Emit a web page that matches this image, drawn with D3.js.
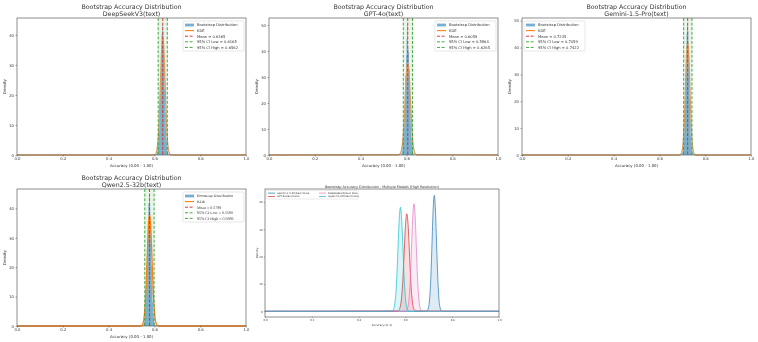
<!DOCTYPE html>
<html lang="en">
<head>
    <meta charset="UTF-8">
    <title>Bootstrap Accuracy Distribution</title>
    <script src="https://d3js.org/d3.v7.min.js"></script>
    <style>
        body { margin: 0; background: white; }
        svg { display: block; font-family: "DejaVu Sans", sans-serif; will-change: transform; }
        svg text { -webkit-font-smoothing: antialiased; text-rendering: geometricPrecision; }
    </style>
</head>
<body>
<script>
    // models, stats
    const models = ["DeepSeekV3(text)", "GPT-4o(text)", "Gemini-1.5-Pro(text)", "Qwen2.5-32b(text)"];
    const means = [0.6365, 0.6059, 0.7235, 0.5789];
    const ciLow = [0.6165, 0.5864, 0.7059, 0.5580];
    const ciHigh = [0.6562, 0.6265, 0.7422, 0.5986];

    // KDE densities sampled at mean + offset
    const kdeOffsets = [-0.04, -0.035, -0.03, -0.025, -0.02, -0.015, -0.01, -0.005, 0,
                        0.005, 0.01, 0.015, 0.02, 0.025, 0.03, 0.035, 0.04];
    const kdeDeepSeek = [0.0, 0.1, 0.5, 1.9, 5.5, 13.0, 24.0, 34.6, 39.4, 34.9, 24.2, 12.8, 5.3, 1.7, 0.4, 0.1, 0.0];
    const kdeGPT      = [0.1, 0.3, 1.0, 3.0, 7.3, 14.5, 23.8, 32.2, 35.7, 32.5, 24.1, 14.7, 7.1, 2.9, 0.9, 0.3, 0.1];
    const kdeGemini   = [0.0, 0.0, 0.3, 1.2, 4.5, 11.8, 24.3, 37.0, 42.5, 36.7, 23.9, 12.0, 4.3, 1.2, 0.2, 0.0, 0.0];
    const kdeQwen     = [0.0, 0.1, 0.6, 2.3, 6.1, 13.8, 24.0, 34.2, 38.1, 33.8, 24.3, 13.6, 6.3, 2.1, 0.6, 0.1, 0.0];

    // histogram heights, bins of 0.0025 starting at mean - 0.03
    const histBinWidth = 0.0025;
    const histStartOffset = -0.03;
    const histDeepSeek = [0.2, 0.5, 1.1, 2.4, 4.3, 7.9, 12.6, 19.8, 27.1, 33.5, 40.2, 43.4, 41.1, 36.0, 29.3, 21.7, 14.2, 8.6, 4.9, 2.6, 1.2, 0.5, 0.2, 0.1];
    const histGPT      = [0.4, 0.9, 1.8, 3.5, 6.2, 10.4, 15.8, 22.9, 30.6, 38.4, 44.7, 50.2, 41.3, 39.5, 32.8, 25.1, 17.4, 11.2, 6.7, 3.6, 1.9, 0.8, 0.4, 0.1];
    const histGemini   = [0.1, 0.3, 0.7, 1.6, 3.4, 6.9, 12.5, 20.4, 29.8, 38.6, 45.1, 48.6, 46.2, 39.4, 30.2, 21.0, 13.1, 7.2, 3.7, 1.7, 0.7, 0.3, 0.1, 0.0];
    const histQwen     = [0.2, 0.5, 1.2, 2.6, 5.0, 8.8, 14.1, 21.3, 29.0, 35.9, 41.7, 44.4, 40.8, 35.2, 28.1, 20.5, 13.6, 8.1, 4.5, 2.3, 1.0, 0.4, 0.2, 0.1];

    const kdes = [kdeDeepSeek, kdeGPT, kdeGemini, kdeQwen];
    const hists = [histDeepSeek, histGPT, histGemini, histQwen];

    // tick labels
    const xTicks = [0, 0.2, 0.4, 0.6, 0.8, 1.0];
    const yTicks40 = [0, 10, 20, 30, 40];
    const yTicks50 = [0, 10, 20, 30, 40, 50];

    // combined plot
    const comboOrder = [2, 1, 0, 3];   // Gemini, GPT, DeepSeek, Qwen
    const comboLabels = ["Gemini-1.5-Pro(text) Data", "GPT-4o(text) Data", "DeepSeekV3(text) Data", "Qwen2.5-32b(text) Data"];
    const comboColors = ["#1f77b4", "#d62728", "#e377c2", "#17becf"];

    const fmt = d3.format(".4f");
    const svg = d3.select("body").append("svg").attr("width", 758).attr("height", 342);

    function kdePoints(m) {
        const pts = kdeOffsets.map((o, j) => [means[m] + o, kdes[m][j]]);
        return [[0, 0]].concat(pts, [[1, 0]]);
    }

    // 4 single panels
    const panels = [
        { m: 0, x0: 17,  x1: 246, y0: 18,  y1: 155, yMax: 45.6, yTicks: yTicks40, legendLeft: false, serif: false },
        { m: 1, x0: 269, x1: 498, y0: 18,  y1: 155, yMax: 52.7, yTicks: yTicks50, legendLeft: false, serif: false },
        { m: 2, x0: 522, x1: 751, y0: 18,  y1: 155, yMax: 51.0, yTicks: yTicks50, legendLeft: true,  serif: false },
        { m: 3, x0: 17,  x1: 246, y0: 189, y1: 326, yMax: 46.6, yTicks: yTicks40, legendLeft: false, serif: true }
    ];

    panels.forEach(p => {
        const m = p.m;
        const x = d3.scaleLinear().domain([0, 1]).range([p.x0, p.x1]);
        const y = d3.scaleLinear().domain([0, p.yMax]).range([p.y1, p.y0]);
        const g = svg.append("g");

        // CI span
        g.append("rect")
            .attr("x", x(ciLow[m])).attr("y", p.y0)
            .attr("width", x(ciHigh[m]) - x(ciLow[m])).attr("height", p.y1 - p.y0)
            .attr("fill", "#2ca02c").attr("fill-opacity", 0.1);

        // histogram
        const start = means[m] + histStartOffset;
        g.selectAll(".bar").data(hists[m]).join("rect")
            .attr("x", (d, i) => x(start + i * histBinWidth))
            .attr("width", x(histBinWidth) - x(0) + 0.05)
            .attr("y", d => y(d))
            .attr("height", d => y(0) - y(d))
            .attr("fill", "#1f77b4").attr("fill-opacity", 0.6);

        // KDE
        g.append("path")
            .datum(kdePoints(m))
            .attr("d", d3.line().x(d => x(d[0])).y(d => y(d[1])).curve(d3.curveMonotoneX))
            .attr("fill", "none").attr("stroke", p.serif ? "#ff7f0e" : "#d9a066").attr("stroke-width", 1.3);

        // mean + CI lines
        const vline = (v, color) => g.append("line")
            .attr("x1", x(v)).attr("x2", x(v)).attr("y1", p.y0).attr("y2", p.y1)
            .attr("stroke", color).attr("stroke-width", 0.9).attr("stroke-dasharray", "3,1.6");
        vline(means[m], "#d62728");
        vline(ciLow[m], "#2ca02c");
        vline(ciHigh[m], "#2ca02c");

        // frame
        g.append("rect")
            .attr("x", p.x0).attr("y", p.y0).attr("width", p.x1 - p.x0).attr("height", p.y1 - p.y0)
            .attr("fill", "none").attr("stroke", "#444").attr("stroke-width", 0.6);

        // axes
        const xa = g.append("g").attr("transform", `translate(0,${p.y1})`)
            .call(d3.axisBottom(x).tickValues(xTicks).tickFormat(d3.format(".1f")).tickSize(1.5).tickPadding(1));
        const ya = g.append("g").attr("transform", `translate(${p.x0},0)`)
            .call(d3.axisLeft(y).tickValues(p.yTicks).tickFormat(d3.format("d")).tickSize(1.5).tickPadding(1.5));
        [xa, ya].forEach(a => {
            a.select(".domain").remove();
            a.selectAll("line").attr("stroke", "#444").attr("stroke-width", 0.5);
            a.selectAll("text").attr("font-size", 3.8).attr("font-family", "DejaVu Sans").attr("fill", "#333");
        });

        g.append("text").attr("x", (p.x0 + p.x1) / 2).attr("y", p.y1 + 11.5)
            .attr("text-anchor", "middle").attr("font-size", 3.9).attr("fill", "#333")
            .text("Accuracy (0.00 - 1.00)");
        g.append("text")
            .attr("transform", `translate(${p.x0 - 11},${(p.y0 + p.y1) / 2}) rotate(-90)`)
            .attr("text-anchor", "middle").attr("font-size", 3.9).attr("fill", "#333")
            .text("Density");

        // title
        const cx = (p.x0 + p.x1) / 2;
        g.append("text").attr("x", cx).attr("y", p.y0 - 9.5).attr("text-anchor", "middle")
            .attr("font-size", 6.3).attr("fill", "#333").text("Bootstrap Accuracy Distribution");
        g.append("text").attr("x", cx).attr("y", p.y0 - 2).attr("text-anchor", "middle")
            .attr("font-size", 6.3).attr("fill", "#333").text(models[m]);

        // legend
        const lw = 61, lh = 30;
        const lx = p.legendLeft ? p.x0 + 2 : p.x1 - lw - 2;
        const ly = p.y0 + 3;
        const lg = g.append("g").attr("font-family", p.serif ? "Liberation Serif" : "DejaVu Sans");
        lg.append("rect").attr("x", lx).attr("y", ly).attr("width", lw).attr("height", lh)
            .attr("rx", 1).attr("fill", "white").attr("fill-opacity", 0.8)
            .attr("stroke", "#ccc").attr("stroke-width", 0.5);
        const items = [
            { kind: "patch", color: "#1f77b4", label: "Bootstrap Distribution" },
            { kind: "line", color: "#ff7f0e", label: "KDE" },
            { kind: "dash", color: "#d62728", label: `Mean = ${fmt(means[m])}` },
            { kind: "dash", color: "#2ca02c", label: `95% CI Low = ${fmt(ciLow[m])}` },
            { kind: "dash", color: "#2ca02c", label: `95% CI High = ${fmt(ciHigh[m])}` }
        ];
        items.forEach((it, i) => {
            const ry = ly + 4 + i * 5.6;
            if (it.kind === "patch") {
                lg.append("rect").attr("x", lx + 2).attr("y", ry - 1.4).attr("width", 9).attr("height", 2.8)
                    .attr("fill", it.color).attr("fill-opacity", 0.6);
            } else {
                lg.append("line").attr("x1", lx + 2).attr("x2", lx + 11).attr("y1", ry).attr("y2", ry)
                    .attr("stroke", it.color).attr("stroke-width", it.kind === "line" ? 1.1 : 0.9)
                    .attr("stroke-dasharray", it.kind === "dash" ? "3,1.6" : null);
            }
            lg.append("text").attr("x", lx + 14).attr("y", ry + 1.3)
                .attr("font-size", p.serif ? 4.0 : 3.7).attr("fill", "#333").text(it.label);
        });
    });

    // combined panel
    const c = { x0: 265, x1: 499, y0: 189, y1: 317 };
    const cxs = d3.scaleLinear().domain([0, 1]).range([c.x0, c.x1]);
    const cys = d3.scaleLinear().domain([-2.1, 44.8]).range([c.y1, c.y0]);
    const cg = svg.append("g");
    const cline = d3.line().x(d => cxs(d[0])).y(d => cys(d[1])).curve(d3.curveMonotoneX);
    const carea = d3.area().x(d => cxs(d[0])).y0(cys(0)).y1(d => cys(d[1])).curve(d3.curveMonotoneX);

    comboOrder.forEach((m, k) => {
        const pts = kdePoints(m);
        cg.append("path").datum(pts).attr("d", carea)
            .attr("fill", comboColors[k]).attr("fill-opacity", 0.15);
        cg.append("path").datum(pts).attr("d", cline)
            .attr("fill", "none").attr("stroke", comboColors[k]).attr("stroke-width", 0.7);
    });

    cg.append("rect").attr("x", c.x0).attr("y", c.y0).attr("width", c.x1 - c.x0).attr("height", c.y1 - c.y0)
        .attr("fill", "none").attr("stroke", "#444").attr("stroke-width", 0.6);

    const cxa = cg.append("g").attr("transform", `translate(0,${c.y1})`)
        .call(d3.axisBottom(cxs).tickValues(xTicks).tickFormat(d3.format(".1f")).tickSize(1.2).tickPadding(0.8));
    const cya = cg.append("g").attr("transform", `translate(${c.x0},0)`)
        .call(d3.axisLeft(cys).tickValues(yTicks40).tickFormat(d3.format("d")).tickSize(1.2).tickPadding(1.2));
    [cxa, cya].forEach(a => {
        a.select(".domain").remove();
        a.selectAll("line").attr("stroke", "#444").attr("stroke-width", 0.4);
        a.selectAll("text").attr("font-size", 2.6).attr("font-family", "DejaVu Sans").attr("fill", "#333");
    });

    cg.append("text").attr("x", (c.x0 + c.x1) / 2).attr("y", c.y1 + 8.5)
        .attr("text-anchor", "middle").attr("font-size", 2.8).attr("fill", "#333").text("Accuracy (0-1)");
    cg.append("text")
        .attr("transform", `translate(${c.x0 - 7.5},${(c.y0 + c.y1) / 2}) rotate(-90)`)
        .attr("text-anchor", "middle").attr("font-size", 2.8).attr("fill", "#333").text("Density");
    cg.append("text").attr("x", (c.x0 + c.x1) / 2).attr("y", c.y0 - 1.3)
        .attr("text-anchor", "middle").attr("font-size", 3.4).attr("fill", "#333")
        .text("Bootstrap Accuracy Distribution - Multiple Models (High Resolution)");

    // combined legend, 2 columns
    const clx = c.x0 + 1.5, cly = c.y0 + 1.5;
    cg.append("rect").attr("x", clx).attr("y", cly).attr("width", 92).attr("height", 8.5)
        .attr("rx", 0.8).attr("fill", "white").attr("fill-opacity", 0.8)
        .attr("stroke", "#ccc").attr("stroke-width", 0.4);
    comboLabels.forEach((lab, k) => {
        const col = Math.floor(k / 2), row = k % 2;
        const ix = clx + 1.5 + col * 51, iy = cly + 2.6 + row * 3.4;
        cg.append("line").attr("x1", ix).attr("x2", ix + 7).attr("y1", iy).attr("y2", iy)
            .attr("stroke", comboColors[k]).attr("stroke-width", 0.7);
        cg.append("text").attr("x", ix + 9).attr("y", iy + 0.9)
            .attr("font-size", 2.5).attr("fill", "#333").text(lab);
    });
</script>
</body>
</html>
